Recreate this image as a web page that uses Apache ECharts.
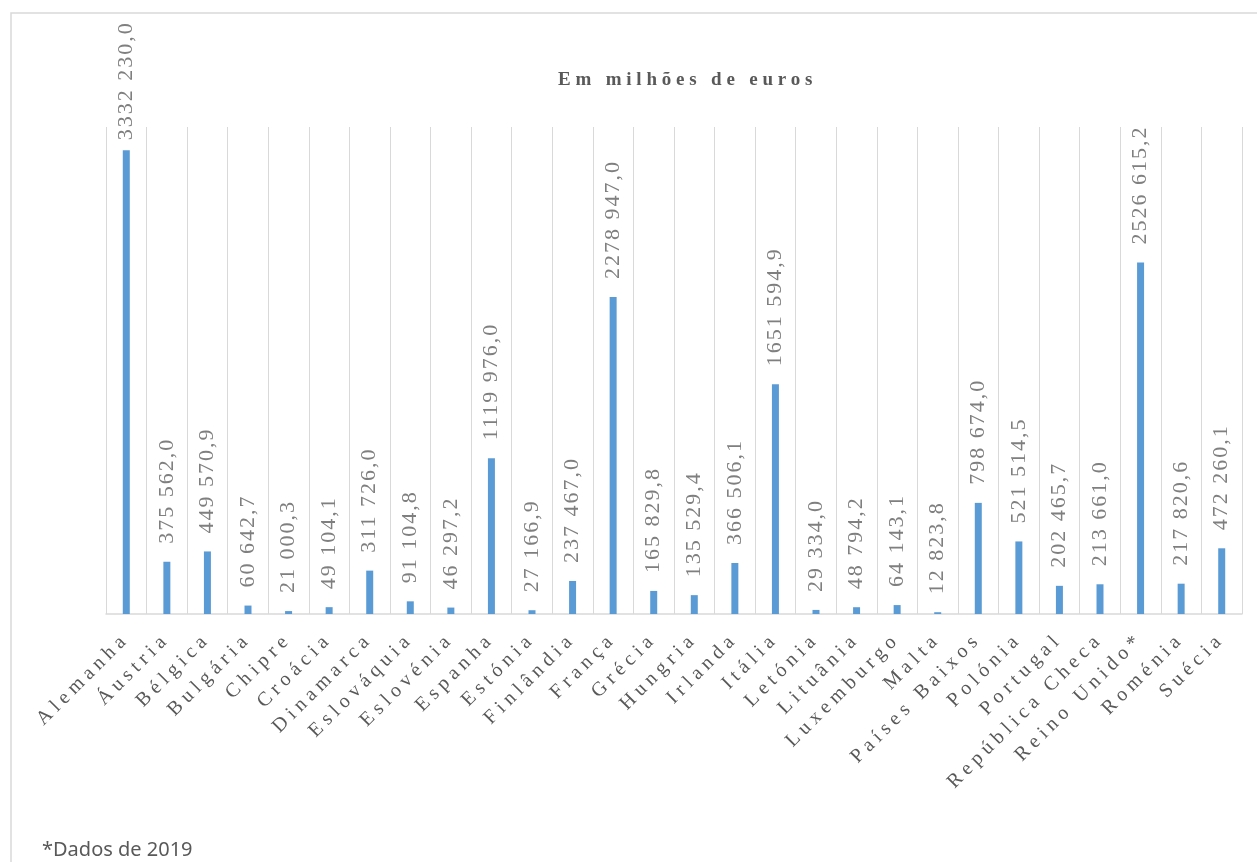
<!DOCTYPE html>
<html>
<head>
<meta charset="utf-8">
<script src="https://cdn.jsdelivr.net/npm/echarts@6/dist/echarts.min.js"></script>
<style>
  html, body { margin: 0; padding: 0; background: #ffffff; }
  #chart { width: 1257px; height: 862px; }
</style>
</head>
<body>
<div id="chart"></div>
<script>
// Países da UE – valores em milhões de euros
const countries = [
  'Alemanha', 'Áustria', 'Bélgica', 'Bulgária', 'Chipre', 'Croácia', 'Dinamarca',
  'Eslováquia', 'Eslovénia', 'Espanha', 'Estónia', 'Finlândia', 'França', 'Grécia',
  'Hungria', 'Irlanda', 'Itália', 'Letónia', 'Lituânia', 'Luxemburgo', 'Malta',
  'Países Baixos', 'Polónia', 'Portugal', 'República Checa', 'Reino Unido*',
  'Roménia', 'Suécia'
];
const values = [
  3332230.0, 375562.0, 449570.9, 60642.7, 21000.3, 49104.1, 311726.0,
  91104.8, 46297.2, 1119976.0, 27166.9, 237467.0, 2278947.0, 165829.8,
  135529.4, 366506.1, 1651594.9, 29334.0, 48794.2, 64143.1, 12823.8,
  798674.0, 521514.5, 202465.7, 213661.0, 2526615.2, 217820.6, 472260.1
];
const titleText = 'Em milhões de euros';
const noteText = '*Dados de 2019';

const SERIF = 'Liberation Serif';

// Character spacing for the serif texts: canvas letterSpacing chosen per font
(function () {
  const proto = CanvasRenderingContext2D.prototype;
  if (!('letterSpacing' in proto)) return;
  const origFill = proto.fillText;
  proto.fillText = function () {
    const f = this.font;
    let ls = '0px';
    if (/Serif/.test(f)) {
      if (/bold|700/.test(f)) ls = '4.8px';
      else if (/\b20px/.test(f)) ls = '5px';
      else if (/\b22px/.test(f)) ls = '2px';
    }
    this.letterSpacing = ls;
    const r = origFill.apply(this, arguments);
    this.letterSpacing = '0px';
    return r;
  };
})();

// "3332 230,0" style: space before the last three integer digits, comma decimal
function fmt(v) {
  const parts = v.toFixed(1).split('.');
  let int = parts[0];
  if (int.length > 3) int = int.slice(0, -3) + ' ' + int.slice(-3);
  return int + ',' + parts[1];
}

const maxVal = Math.max.apply(null, values);

const chart = echarts.init(document.getElementById('chart'), null, { renderer: 'canvas' });
chart.setOption({
  animation: false,
  backgroundColor: '#ffffff',
  title: {
    text: titleText,
    left: 553,
    top: 66,
    textStyle: {
      fontFamily: SERIF,
      fontSize: 19,
      fontWeight: 'bold',
      color: '#595959'
    }
  },
  grid: { left: 106, right: 15, top: 127, bottom: 248, containLabel: false },
  xAxis: {
    type: 'category',
    data: countries,
    boundaryGap: true,
    axisLine: { show: true, lineStyle: { color: '#d9d9d9', width: 1.5 } },
    axisTick: { show: false },
    splitLine: { show: true, lineStyle: { color: '#d9d9d9', width: 1 } },
    axisLabel: {
      interval: 0,
      rotate: 45,
      margin: 22,
      fontFamily: SERIF,
      fontSize: 20,
      color: '#595959'
    }
  },
  yAxis: {
    type: 'value',
    min: 0,
    max: 3500000,
    show: false,
    splitLine: { show: false }
  },
  series: [{
    type: 'bar',
    data: values,
    barWidth: 7,
    itemStyle: { color: '#5b9bd5' },
    label: {
      show: true,
      position: 'top',
      distance: 18,
      rotate: 90,
      align: 'left',
      verticalAlign: 'middle',
      fontFamily: SERIF,
      fontSize: 22,
      color: '#7f7f7f',
      formatter: function (p) { return fmt(p.value); }
    },
    // the tallest label sits closer to its bar so it stays inside the frame
    labelLayout: function (p) {
      if (values[p.dataIndex] !== maxVal) return null;
      return {
        x: p.rect.x + p.rect.width / 2,
        y: p.rect.y - 10,
        rotate: 90,
        align: 'left',
        verticalAlign: 'middle'
      };
    }
  }],
  graphic: [
    {
      type: 'rect',
      silent: true,
      shape: { x: 11, y: 13, width: 1400, height: 1000 },
      style: { fill: 'none', stroke: '#d9d9d9', lineWidth: 1.5 }
    },
    {
      type: 'text',
      left: 42,
      top: 840,
      style: {
        text: noteText,
        font: '20px "Noto Sans"',
        fill: '#595959'
      }
    }
  ]
});
</script>
</body>
</html>
